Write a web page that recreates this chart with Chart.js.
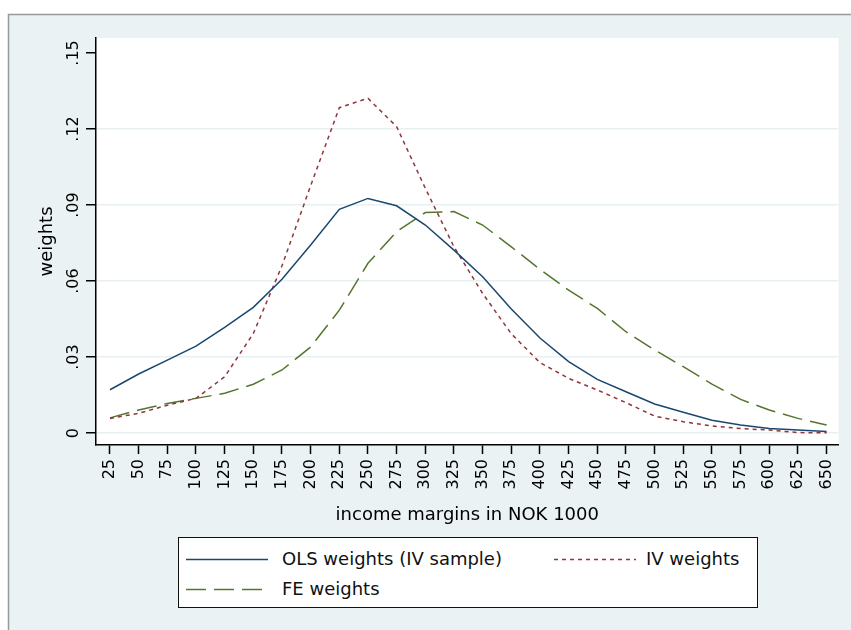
<!DOCTYPE html>
<html>
<head>
<meta charset="utf-8">
<script src="https://cdn.jsdelivr.net/npm/chart.js@4.4.1/dist/chart.umd.min.js"></script>
<style>
  html, body { margin: 0; padding: 0; background: #fff; }
  #wrap { position: relative; width: 851px; height: 630px; }
  #c { position: absolute; left: 0; top: 0; }
  #legend {
    position: absolute; left: 178px; top: 537px; width: 578px; height: 69px;
    border: 1.5px solid #111; background: #fff;
    font-family: 'DejaVu Sans', sans-serif; font-size: 18px; color: #111;
  }
  .item { position: absolute; height: 24px; line-height: 24px; white-space: nowrap; }
  .item svg { position: absolute; left: 0; top: 0; }
  .item span { position: absolute; top: 0; }
</style>
</head>
<body>
<div id="wrap">
  <canvas id="c" width="851" height="630"></canvas>
  <div id="legend"></div>
</div>
<script>
// ---- data ----
const incomeMargins = [25, 50, 75, 100, 125, 150, 175, 200, 225, 250, 275, 300, 325,
                       350, 375, 400, 425, 450, 475, 500, 525, 550, 575, 600, 625, 650];
const xTickLabels = incomeMargins.map(String);

const olsWeights = [0.0171, 0.0233, 0.0288, 0.0343, 0.0417, 0.0496, 0.0607, 0.0742, 0.0883,
                    0.0926, 0.0897, 0.0821, 0.0722, 0.0617, 0.0490, 0.0375, 0.0282, 0.0212,
                    0.0163, 0.0115, 0.0082, 0.0051, 0.0032, 0.0018, 0.0012, 0.0006];
const ivWeights  = [0.0058, 0.0078, 0.0110, 0.0137, 0.0222, 0.0393, 0.0660, 0.0976, 0.1284,
                    0.1321, 0.1209, 0.0966, 0.0735, 0.0551, 0.0392, 0.0278, 0.0216, 0.0170,
                    0.0120, 0.0067, 0.0045, 0.0028, 0.0018, 0.0012, 0.0002, 0.0001];
const feWeights  = [0.0060, 0.0091, 0.0117, 0.0137, 0.0157, 0.0193, 0.0249, 0.0340, 0.0485,
                    0.0670, 0.0795, 0.0870, 0.0874, 0.0821, 0.0735, 0.0646, 0.0564, 0.0492,
                    0.0400, 0.0328, 0.0262, 0.0193, 0.0133, 0.0091, 0.0058, 0.0032];

const yTickValues = [0, 0.03, 0.06, 0.09, 0.12, 0.15];
const yTickLabels = ['0', '.03', '.06', '.09', '.12', '.15'];

const seriesNames = ['OLS weights (IV sample)', 'IV weights', 'FE weights'];
const xTitle = 'income margins in NOK 1000';
const yTitle = 'weights';

// ---- styles ----
const FONT = 'DejaVu Sans';
const colors = ['#1a476f', '#90353b', '#55752f'];
const dashes = [[], [4, 4], [20, 8]];

const toPts = arr => arr.map((v, i) => ({ x: incomeMargins[i], y: v }));

const bgPlugin = {
  id: 'bg',
  beforeDraw(chart) {
    const ctx = chart.ctx, w = chart.width, h = chart.height, a = chart.chartArea;
    ctx.save();
    ctx.fillStyle = '#ffffff';
    ctx.fillRect(0, 0, w, h);
    ctx.fillStyle = '#eaf2f3';
    ctx.fillRect(8, 14, w - 8, h - 14);
    ctx.strokeStyle = '#999999';
    ctx.lineWidth = 1.5;
    ctx.beginPath();
    ctx.moveTo(8.5, h);
    ctx.lineTo(8.5, 14.5);
    ctx.lineTo(w, 14.5);
    ctx.stroke();
    ctx.fillStyle = '#ffffff';
    ctx.fillRect(a.left, a.top, a.right - a.left, a.bottom - a.top);
    ctx.restore();
  }
};

const datasets = [olsWeights, ivWeights, feWeights].map((arr, i) => ({
  label: seriesNames[i],
  data: toPts(arr),
  borderColor: colors[i],
  backgroundColor: colors[i],
  borderWidth: 1.5,
  borderDash: dashes[i],
  pointRadius: 0,
  tension: 0,
  fill: false
}));

new Chart(document.getElementById('c'), {
  type: 'line',
  data: { datasets },
  plugins: [bgPlugin],
  options: {
    responsive: false,
    animation: false,
    devicePixelRatio: 1,
    layout: { padding: { left: 0, right: 11, top: 38, bottom: 0 } },
    plugins: { legend: { display: false }, tooltip: { enabled: false } },
    scales: {
      x: {
        type: 'linear',
        min: 12.8,
        max: 660.4,
        afterBuildTicks: s => { s.ticks = incomeMargins.map(v => ({ value: v })); },
        afterFit: s => { s.height = 185; },
        border: { display: true, color: '#000', width: 1.5 },
        grid: { drawOnChartArea: false, drawTicks: true, tickLength: 9, tickColor: '#000', tickWidth: 1.5 },
        ticks: {
          autoSkip: false, minRotation: 90, maxRotation: 90, padding: 5,
          font: { family: FONT, size: 16 }, color: '#000',
          callback: (v, i) => xTickLabels[i]
        },
        title: {
          display: true, text: xTitle, color: '#000',
          font: { family: FONT, size: 18 },
          padding: { top: 0, bottom: 104 }
        }
      },
      y: {
        type: 'linear',
        min: -0.0047,
        max: 0.1559,
        afterBuildTicks: s => { s.ticks = yTickValues.map(v => ({ value: v })); },
        afterFit: s => { s.width = 96; },
        border: { display: true, color: '#000', width: 1.5 },
        grid: {
          color: c => (c.tick && c.tick.value === 0.15) ? 'rgba(0,0,0,0)' : '#e8f0f2',
          lineWidth: 1.5, drawTicks: true, tickLength: 10, tickColor: '#000', tickWidth: 1.5
        },
        ticks: {
          minRotation: 90, maxRotation: 90, crossAlign: 'center', padding: -1,
          font: { family: FONT, size: 16 }, color: '#000',
          callback: (v, i) => yTickLabels[i]
        },
        title: {
          display: true, text: yTitle, color: '#000',
          font: { family: FONT, size: 18 },
          padding: { top: 37, bottom: 0 }
        }
      }
    }
  }
});

// ---- legend (HTML) ----
const legendPos = [
  { left: 7, top: 9, textLeft: 96 },
  { left: 375, top: 9, textLeft: 92 },
  { left: 7, top: 39, textLeft: 96 }
];
const lg = document.getElementById('legend');
seriesNames.forEach((name, i) => {
  const p = legendPos[i];
  const d = document.createElement('div');
  d.className = 'item';
  d.style.left = p.left + 'px';
  d.style.top = p.top + 'px';
  const dash = dashes[i].length ? dashes[i].join(' ') : 'none';
  d.innerHTML = '<svg width="82" height="24"><line x1="0" y1="12.5" x2="82" y2="12.5" stroke="' +
    colors[i] + '" stroke-width="1.5" stroke-dasharray="' + dash + '"/></svg>' +
    '<span style="left:' + p.textLeft + 'px">' + name + '</span>';
  lg.appendChild(d);
});
</script>
</body>
</html>
